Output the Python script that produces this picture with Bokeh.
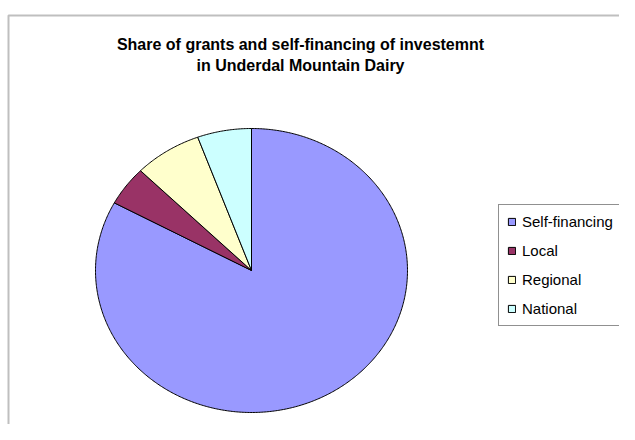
import numpy as np
from bokeh.plotting import figure
from bokeh.models import Range1d, Legend, LegendItem, Label, BoxAnnotation, ColumnDataSource
from bokeh.embed import file_html
from bokeh.resources import INLINE

# ---- data ----
categories = ["Self-financing", "Local", "Regional", "National"]
shares = [82.9, 4.5, 7.0, 5.6]
colors = ["#9999FF", "#993366", "#FFFFCC", "#CCFFFF"]
title_lines = ["Share of grants and self-financing of investemnt",
               "in Underdal Mountain Dairy"]

# ---- layout ----
W, H = 619, 424
CX, CY = 251, 154      # pie centre (data units = pixels)
RX, RY = 156, 142      # pie radii

p = figure(width=W, height=H, output_backend="svg", toolbar_location=None,
           x_range=Range1d(0, W), y_range=Range1d(0, H), min_border=0,
           x_axis_type=None, y_axis_type=None)
p.outline_line_color = None
p.grid.visible = False
p.background_fill_color = "white"
p.border_fill_color = "white"

# chart-area border (only left & top visible in the window)
p.add_layout(BoxAnnotation(left=8, right=W + 40, top=H - 15, bottom=-40,
                           fill_alpha=0, fill_color=None,
                           line_color="#2a2a2a", line_width=2))

# pie slices, clockwise from 12 o'clock
frac = np.array(shares, dtype=float) / float(np.sum(shares))
ends = np.cumsum(frac) * 2 * np.pi
starts = ends - frac * 2 * np.pi
xs, ys = [], []
for a0, a1 in zip(starts, ends):
    n = max(int((a1 - a0) / 0.01), 2) + 1
    t = np.linspace(a0, a1, n)
    xs.append(np.concatenate([[CX], CX + RX * np.sin(t)]).tolist())
    ys.append(np.concatenate([[CY], CY + RY * np.cos(t)]).tolist())

src = ColumnDataSource(dict(xs=xs, ys=ys, color=colors, label=categories))
r = p.patches("xs", "ys", source=src, fill_color="color", line_color="black",
              line_width=1, line_join="miter")

legend = Legend(
    items=[LegendItem(label=c, renderers=[r], index=i) for i, c in enumerate(categories)],
    location=(498, 98), margin=0, padding=8, spacing=12,
    glyph_width=9, glyph_height=9, label_height=14, label_width=130,
    label_standoff=6, label_text_font="Liberation Sans",
    label_text_font_size="15px", label_text_color="black",
    border_line_color="#222222", border_line_width=1,
    background_fill_color="white", background_fill_alpha=1,
)
p.add_layout(legend)

for txt, yy in zip(title_lines, [380, 359]):
    p.add_layout(Label(x=300, y=yy, text=txt, text_align="center",
                       text_baseline="middle", text_font="Liberation Sans",
                       text_font_style="bold", text_font_size="16px",
                       text_color="black"))

open("out.html", "w").write(file_html(p, INLINE))
